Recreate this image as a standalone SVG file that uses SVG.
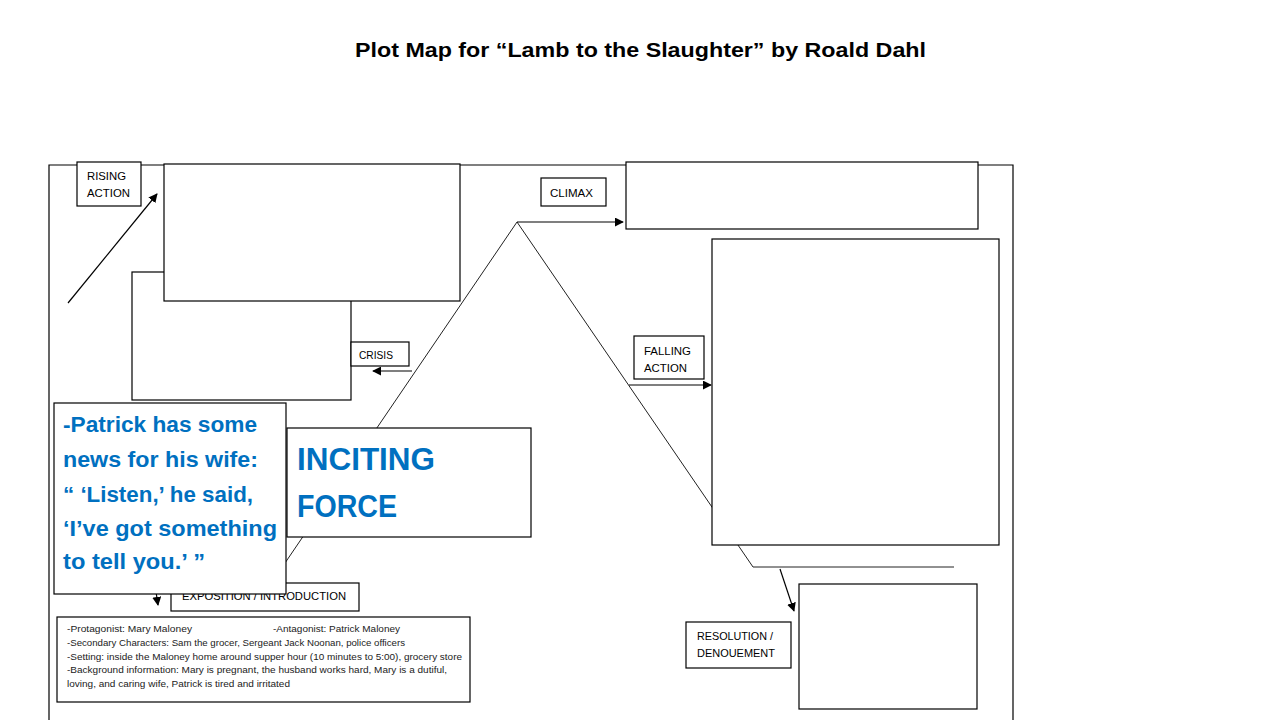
<svg xmlns="http://www.w3.org/2000/svg" width="1280" height="720" viewBox="0 0 1280 720">
<style>
.box{fill:#fff;stroke:#000;stroke-width:1.2}
.frame{fill:none;stroke:#000;stroke-width:1.2}
.plot{fill:none;stroke:#222;stroke-width:1}
.conn{fill:none;stroke:#000;stroke-width:1.2}
.lbl{font-family:"Liberation Sans",Arial,sans-serif;font-size:11px;fill:#000}
.big{font-family:"Liberation Sans",Arial,sans-serif;font-weight:bold;fill:#0070C0}
.info{font-family:"Liberation Sans",Arial,sans-serif;font-size:9px;fill:#222}
.title{font-family:"Liberation Sans",Arial,sans-serif;font-weight:bold;font-size:21px;fill:#000}
</style>
<defs>
<marker id="ah" viewBox="0 0 10 10" refX="9" refY="5" markerWidth="9" markerHeight="9" markerUnits="userSpaceOnUse" orient="auto">
<path d="M0,0 L10,5 L0,10 z" fill="#000"/>
</marker>
</defs>
<rect width="1280" height="720" fill="#fff"/>
<text class="title" x="355" y="57" textLength="571" lengthAdjust="spacingAndGlyphs">Plot Map for “Lamb to the Slaughter” by Roald Dahl</text>
<g id="frame">
<path class="frame" d="M49,720 V165 H1013 V720"/>
</g>
<g id="connectors">
<path class="plot" d="M285,563 L517,222 L753,567 H954"/>
<line class="conn" x1="68" y1="303" x2="157" y2="194" marker-end="url(#ah)"/>
<line class="conn" x1="412" y1="371" x2="373" y2="371" marker-end="url(#ah)"/>
<line class="conn" x1="517" y1="222" x2="623" y2="222" marker-end="url(#ah)"/>
<line class="conn" x1="629" y1="385" x2="711" y2="385" marker-end="url(#ah)"/>
<line class="conn" x1="780" y1="569" x2="794" y2="611" marker-end="url(#ah)"/>
<line class="conn" x1="155" y1="585" x2="158" y2="605" marker-end="url(#ah)"/>
</g>
<g id="rising-box-2"><rect class="box" x="132" y="272" width="219" height="128"/></g>
<g id="rising-box-1"><rect class="box" x="164" y="164" width="296" height="137"/></g>
<g id="rising-label">
<rect class="box" x="77" y="162" width="64" height="44"/>
<text class="lbl" x="87" y="180" textLength="39" lengthAdjust="spacingAndGlyphs">RISING</text>
<text class="lbl" x="87" y="197" textLength="43" lengthAdjust="spacingAndGlyphs">ACTION</text>
</g>
<g id="crisis-label">
<rect class="box" x="351" y="342" width="58" height="24"/>
<text class="lbl" x="359" y="359" textLength="34" lengthAdjust="spacingAndGlyphs">CRISIS</text>
</g>
<g id="climax-label">
<rect class="box" x="541" y="178" width="65" height="28"/>
<text class="lbl" x="550" y="197" textLength="43" lengthAdjust="spacingAndGlyphs">CLIMAX</text>
</g>
<g id="climax-box"><rect class="box" x="626" y="162" width="352" height="67"/></g>
<g id="falling-box"><rect class="box" x="712" y="239" width="287" height="306"/></g>
<g id="falling-label">
<rect class="box" x="634" y="336" width="70" height="43"/>
<text class="lbl" x="644" y="355" textLength="47" lengthAdjust="spacingAndGlyphs">FALLING</text>
<text class="lbl" x="644" y="372" textLength="43" lengthAdjust="spacingAndGlyphs">ACTION</text>
</g>
<g id="resolution-box"><rect class="box" x="799" y="584" width="178" height="125"/></g>
<g id="resolution-label">
<rect class="box" x="686" y="622" width="105" height="46"/>
<text class="lbl" x="697" y="640" textLength="76" lengthAdjust="spacingAndGlyphs">RESOLUTION /</text>
<text class="lbl" x="697" y="657" textLength="78" lengthAdjust="spacingAndGlyphs">DENOUEMENT</text>
</g>
<g id="inciting-box">
<rect class="box" x="287" y="428" width="244" height="109"/>
<text class="big" x="297" y="470" font-size="31" textLength="138" lengthAdjust="spacingAndGlyphs">INCITING</text>
<text class="big" x="297" y="517" font-size="31" textLength="100" lengthAdjust="spacingAndGlyphs">FORCE</text>
</g>
<g id="exposition-label">
<rect class="box" x="171" y="583" width="188" height="28"/>
<text class="lbl" x="182" y="600" textLength="164" lengthAdjust="spacingAndGlyphs">EXPOSITION / INTRODUCTION</text>
</g>
<g id="patrick-box">
<rect class="box" x="54" y="403" width="232" height="191"/>
<text class="big" x="63" y="432" font-size="22" textLength="194" lengthAdjust="spacingAndGlyphs">-Patrick has some</text>
<text class="big" x="63" y="467" font-size="22" textLength="195" lengthAdjust="spacingAndGlyphs">news for his wife:</text>
<text class="big" x="63" y="502" font-size="22" textLength="190" lengthAdjust="spacingAndGlyphs">“ ‘Listen,’ he said,</text>
<text class="big" x="63" y="536" font-size="22" textLength="214" lengthAdjust="spacingAndGlyphs">‘I’ve got something</text>
<text class="big" x="63" y="569" font-size="22" textLength="142" lengthAdjust="spacingAndGlyphs">to tell you.’ ”</text>
</g>
<g id="exposition-box">
<rect class="box" x="57" y="617" width="413" height="85"/>
<text class="info" x="67" y="632" textLength="125" lengthAdjust="spacingAndGlyphs">-Protagonist: Mary Maloney</text>
<text class="info" x="273" y="632" textLength="127" lengthAdjust="spacingAndGlyphs">-Antagonist: Patrick Maloney</text>
<text class="info" x="67" y="646" textLength="338" lengthAdjust="spacingAndGlyphs">-Secondary Characters: Sam the grocer, Sergeant Jack Noonan, police officers</text>
<text class="info" x="67" y="660" textLength="395" lengthAdjust="spacingAndGlyphs">-Setting: inside the Maloney home around supper hour (10 minutes to 5:00), grocery store</text>
<text class="info" x="67" y="673" textLength="380" lengthAdjust="spacingAndGlyphs">-Background information: Mary is pregnant, the husband works hard, Mary is a dutiful,</text>
<text class="info" x="67" y="687" textLength="223" lengthAdjust="spacingAndGlyphs">loving, and caring wife, Patrick is tired and irritated</text>
</g>
</svg>
